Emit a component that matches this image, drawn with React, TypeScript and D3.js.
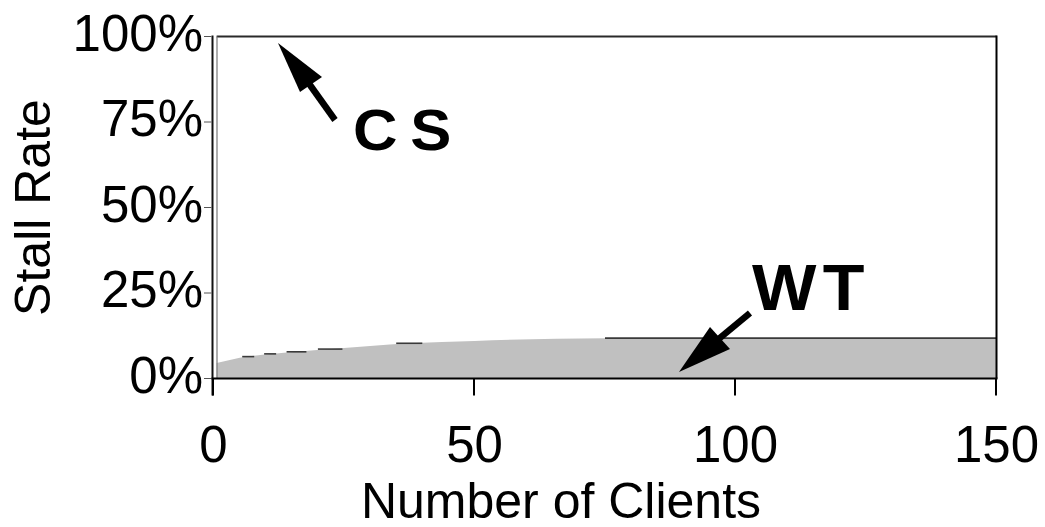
import React from "react";
import * as d3 from "d3";

// Stall rate (%) of the two schemes as the number of clients grows
const xTicks = [0, 50, 100, 150];
const yTicks = [0, 25, 50, 75, 100];
const yTickLabels = ["0%", "25%", "50%", "75%", "100%"];

const csClients = [0.6, 150];
const csRate = [100, 100];

const wtClients = [0.6, 6.5, 11, 16, 22.5, 37.5, 50, 75, 150];
const wtRate = [4.5, 6.4, 7.2, 7.8, 8.6, 10.3, 11.0, 11.8, 11.8];

// sampled runs drawn as short outline segments on top of the WT area
const wtSegStart = [5.5, 9.7, 14, 20, 35, 75];
const wtSegEnd = [7.8, 12, 17.8, 24.7, 40, 150];
const wtSegRate = [6.4, 7.2, 7.8, 8.6, 10.3, 11.8];

const W = 1045;
const H = 527;
const FONT = "'Liberation Sans', Arial, Helvetica, sans-serif";

export default function App() {
  const x = d3.scaleLinear().domain([0, 150]).range([213.5, 996.5]);
  const y = d3.scaleLinear().domain([0, 100]).range([378.5, 36.5]);

  const wtPts = wtClients.map((c, i) => ({ c, v: wtRate[i] }));
  const area = d3
    .area<{ c: number; v: number }>()
    .x((d) => x(d.c))
    .y0(y(0))
    .y1((d) => y(d.v))
    .curve(d3.curveMonotoneX);

  const csPts = csClients.map((c, i) => ({ c, v: csRate[i] }));
  const csLine = d3
    .line<{ c: number; v: number }>()
    .x((d) => x(d.c))
    .y((d) => y(d.v));

  const left = x(0);
  const right = x(150);
  const bottom = y(0);
  const top = y(100);

  return (
    <svg
      width={W}
      height={H}
      style={{ position: "absolute", left: 0, top: 0, background: "#fff" }}
      fontFamily={FONT}
    >
      <rect x={0} y={0} width={W} height={H} fill="#fff" />

      {/* WT area */}
      <path d={area(wtPts) ?? ""} fill="#c0c0c0" />
      {wtSegStart.map((s, i) => (
        <line
          key={"seg" + i}
          x1={x(s)}
          x2={x(wtSegEnd[i])}
          y1={y(wtSegRate[i])}
          y2={y(wtSegRate[i])}
          stroke="#3a3a3a"
          strokeWidth={1.6}
        />
      ))}

      {/* CS line at the top */}
      <path d={csLine(csPts) ?? ""} fill="none" stroke="#2a2a2a" strokeWidth={2.2} />

      {/* frame */}
      <line x1={left + 3.5} x2={left + 3.5} y1={top} y2={bottom} stroke="#777" strokeWidth={1.2} />
      <line x1={right} x2={right} y1={top - 1} y2={bottom} stroke="#000" strokeWidth={2} />

      {/* y axis */}
      <line x1={left - 1} x2={left - 1} y1={top - 1} y2={bottom + 17} stroke="#111" strokeWidth={2} />
      {yTicks.map((t, i) => (
        <g key={"yt" + t}>
          <line x1={204} x2={left - 2} y1={y(t)} y2={y(t)} stroke="#555" strokeWidth={1} />
          <text
            x={203}
            y={y(t) + 14}
            textAnchor="end"
            fontSize={51}
            fill="#000"
          >
            {yTickLabels[i]}
          </text>
        </g>
      ))}

      {/* x axis */}
      <line x1={left - 2} x2={right + 1} y1={bottom} y2={bottom} stroke="#000" strokeWidth={2} />
      {xTicks.map((t) => (
        <g key={"xt" + t}>
          <line x1={x(t) - 0.5} x2={x(t) - 0.5} y1={bottom} y2={bottom + 17} stroke="#000" strokeWidth={2} />
          <text x={x(t)} y={462} textAnchor="middle" fontSize={51} fill="#000">
            {t}
          </text>
        </g>
      ))}

      {/* axis titles */}
      <text x={561} y={518} textAnchor="middle" fontSize={50} fill="#000">
        Number of Clients
      </text>
      <text
        transform={`translate(50, ${(top + bottom) / 2}) rotate(-90)`}
        textAnchor="middle"
        fontSize={50}
        fill="#000"
      >
        Stall Rate
      </text>

      {/* annotations */}
      <line x1={335} y1={120} x2={305} y2={78} stroke="#000" strokeWidth={6.5} />
      <polygon points="278,43 300,92 322,77" fill="#000" />
      <text
        transform="translate(353,150) scale(1.08,1)"
        fontSize={57}
        fontWeight="bold"
        letterSpacing={-2}
        fill="#000"
      >
        C S
      </text>

      <line x1={750} y1={313} x2={715} y2={342} stroke="#000" strokeWidth={6.5} />
      <polygon points="679,372 710,327 730,349" fill="#000" />
      <text
        transform="translate(752,310) scale(1.05,1)"
        fontSize={65}
        fontWeight="bold"
        letterSpacing={-6}
        fill="#000"
      >
        W T
      </text>
    </svg>
  );
}
